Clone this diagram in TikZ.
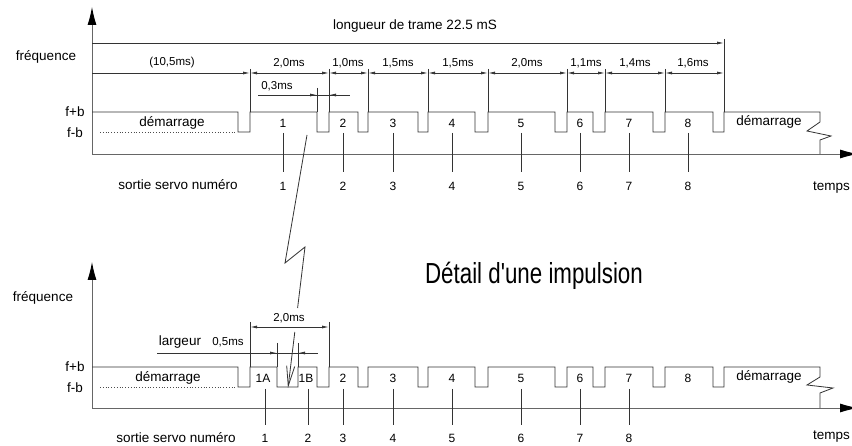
\documentclass[tikz,border=0pt]{standalone}
\usepackage{fontspec}
\setmainfont{Liberation Sans}
\usetikzlibrary{arrows.meta}
\begin{document}
\begin{tikzpicture}[x=1pt,y=-1pt,
  ln/.style={draw=black!80, line width=0.8pt},
  axisln/.style={draw=black!60, line width=0.9pt, -{Latex[length=18pt,width=9pt,fill=black,color=black]}},
  tip/.style={-{Latex[length=7pt,width=3pt]}},
  dimarr/.style={ln, {Latex[length=7pt,width=3pt]}-{Latex[length=7pt,width=3pt]}},
  lbl/.style={font=\fontsize{13.5}{15}\selectfont, inner sep=0pt},
  cad/.style={font=\fontsize{11.5}{12}\selectfont, inner sep=0pt},
  num/.style={font=\fontsize{12}{13}\selectfont, inner sep=0pt},
  big/.style={font=\fontsize{29}{32}\selectfont, inner sep=0pt, xscale=0.77}]
\useasboundingbox (0,0) rectangle (852,446);
\fill[white] (0,0) rectangle (852,446);

% ================= TOP DIAGRAM =================
\coordinate (O1) at (92,154);
\coordinate (Y1) at (92,7);
\coordinate (X1) at (858,154);
\draw[axisln] (O1) -- (Y1);
\draw[axisln] (O1) -- (X1);

\node[lbl] (ttrame) at (415,26) {longueur de trame 22.5 mS};
\node[lbl] (tfreq1) at (46,57) {fréquence};
\node[lbl] (tfb1) at (75,112) {f+b};
\node[lbl] (tfmb1) at (75,133) {f-b};

% frame length line
\coordinate (F0) at (92,43);
\coordinate (F1) at (724,43);
\draw[ln,tip] (F0) -- (F1);

% extension lines
\foreach \x in {250,329,368,428,488,567,605,665}
  \draw[ln] (\x,69) -- (\x,112);
\draw[ln] (724,39) -- (724,112);

% segment dimension line
\coordinate (S0) at (92,73);
\coordinate (S1) at (250,73);
\draw[ln,tip] (S0) -- (S1);
\foreach \a/\b in {250/329,329/368,368/428,428/488,488/567,567/605,605/665,665/724}
  \draw[dimarr] (\a,73) -- (\b,73);

\node[cad] (d0) at (172,63) {(10,5ms)};
\node[cad] (d1) at (289,63) {2,0ms};
\node[cad] (d2) at (348,63) {1,0ms};
\node[cad] (d3) at (398,63) {1,5ms};
\node[cad] (d4) at (458,63) {1,5ms};
\node[cad] (d5) at (527,63) {2,0ms};
\node[cad] (d6) at (586,63) {1,1ms};
\node[cad] (d7) at (635,63) {1,4ms};
\node[cad] (d8) at (693,63) {1,6ms};

% 0,3ms
\draw[ln] (317,88) -- (317,112);
\draw[ln] (258,95) -- (350,95);
\draw[ln,tip] (302,95) -- (317,95);
\draw[ln,tip] (344,95) -- (329,95);
\node[cad] (d03) at (277,86) {0,3ms};

% signal
\draw[ln] (92,112)
  \foreach \a/\b in {238/250,317/329,358/368,418/428,475/488,555/567,593/605,653/665,713/724}
  { -- (\a,112) -- (\a,132) -- (\b,132) -- (\b,112) }
  -- (820,112) -- (820,122) -- (807,131) -- (831,136) -- (820,140) -- (820,154);
\draw[black!70, line width=0.8pt, dotted] (100,132) -- (236,132);

\node[lbl] (dem1) at (172,123) {démarrage};
\node[lbl] (dem1r) at (769,122) {démarrage};
\foreach \x/\t [count=\i] in {283/1,343/2,393/3,452/4,521/5,580/6,629/7,688/8}
{
  \node[num] (p\i) at (\x,123) {\t};
  \draw[ln] (\x,133) -- (\x,172);
  \node[num] (n\i) at (\x,186) {\t};
}
\node[lbl] (sortie1) at (178,185) {sortie servo numéro};
\node[lbl,anchor=west] (temps1) at (813,188) {temps};

% lightning link
\coordinate (L0) at (307,135);
\coordinate (L1) at (285,263);
\coordinate (L2) at (305,247);
\coordinate (L3) at (297.6,308);
\coordinate (L4) at (294.8,332);
\coordinate (L5) at (288,388);
\draw[ln] (L0) -- (L1) -- (L2) -- (L3);
\draw[ln,-{Straight Barb[length=20pt,width=8pt]}] (L4) -- (L5);

\node[big] (titre) at (534,276) {Détail d\textquotesingle une impulsion};

% ================= BOTTOM DIAGRAM =================
\coordinate (O2) at (92,408);
\coordinate (Y2) at (92,262);
\coordinate (X2) at (858,408);
\draw[axisln] (O2) -- (Y2);
\draw[axisln] (O2) -- (X2);

\node[lbl] (tfreq2) at (43,298) {fréquence};
\node[lbl] (tfb2) at (75,367) {f+b};
\node[lbl] (tfmb2) at (75,388) {f-b};

% 2,0ms
\draw[ln] (250,322) -- (250,367);
\draw[ln] (329,322) -- (329,367);
\draw[dimarr] (250,327) -- (329,327);
\node[cad] (d20) at (289,318) {2,0ms};

% largeur
\draw[ln] (157,353) -- (318,353);
\draw[ln] (277,343) -- (277,367);
\draw[ln] (298,343) -- (298,367);
\draw[ln,tip] (262,353) -- (277,353);
\draw[ln,tip] (313,353) -- (298,353);
\node[lbl] (larg) at (180,342) {largeur};
\node[cad] (d05) at (228,342) {0,5ms};

% signal
\draw[ln] (92,367)
  \foreach \a/\b in {238/250,277/298,317/329,358/368,418/428,475/488,555/567,593/605,653/665,713/724}
  { -- (\a,367) -- (\a,387) -- (\b,387) -- (\b,367) }
  -- (820,367) -- (820,377) -- (807,385) -- (833,388) -- (820,393) -- (820,408);
\draw[black!70, line width=0.8pt, dotted] (100,387) -- (236,387);

\node[lbl] (dem2) at (168,378) {démarrage};
\node[lbl] (dem2r) at (769,377) {démarrage};
\foreach \x/\t [count=\i] in {263/1A,306/1B,343/2,393/3,452/4,521/5,580/6,629/7,688/8}
  \node[num] (q\i) at (\x,378) {\t};
\foreach \x/\t [count=\i] in {265/1,308/2,343/3,393/4,452/5,521/6,580/7,629/8}
{
  \draw[ln] (\x,389) -- (\x,425);
  \node[num] (m\i) at (\x,438) {\t};
}
\node[lbl] (sortie2) at (176,438) {sortie servo numéro};
\node[lbl,anchor=west] (temps2) at (813,437) {temps};
\end{tikzpicture}
\end{document}
